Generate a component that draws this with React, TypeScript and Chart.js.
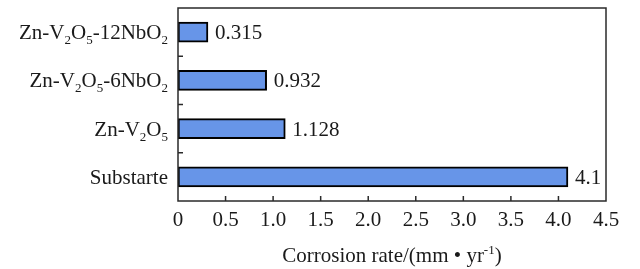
import React, { useEffect, useRef } from "react";
import { Chart, registerables } from "chart.js";

Chart.register(...registerables);

// "_x" marks a one-character subscript
const categories = ["Zn-V_2O_5-12NbO_2", "Zn-V_2O_5-6NbO_2", "Zn-V_2O_5", "Substarte"];
const corrosionRates = [0.315, 0.932, 1.128, 4.1];
const valueLabels = ["0.315", "0.932", "1.128", "4.1"];
const xTickValues = [0, 0.5, 1.0, 1.5, 2.0, 2.5, 3.0, 3.5, 4.0, 4.5];
const axisTitleMain = "Corrosion rate/(mm \u2022 yr";
const axisTitleSup = "-1";
const axisTitleEnd = ")";

const FONT = '"Liberation Serif", "Times New Roman", serif';
const SIZE = 21;
const SUB = 13;
const TEXT = "#1a1a1a";
const FRAME = "#2a2a2a";

function parseRich(t: string) {
  const segs: { s: string; sub: boolean }[] = [];
  let i = 0;
  let cur = "";
  while (i < t.length) {
    if (t[i] === "_" && i + 1 < t.length) {
      if (cur) segs.push({ s: cur, sub: false });
      cur = "";
      segs.push({ s: t[i + 1], sub: true });
      i += 2;
    } else {
      cur += t[i];
      i++;
    }
  }
  if (cur) segs.push({ s: cur, sub: false });
  return segs;
}

function drawRichRight(ctx: CanvasRenderingContext2D, t: string, xRight: number, baseline: number) {
  const segs = parseRich(t);
  let total = 0;
  for (const sg of segs) {
    ctx.font = `${sg.sub ? SUB : SIZE}px ${FONT}`;
    total += ctx.measureText(sg.s).width;
  }
  let x = xRight - total;
  ctx.textAlign = "left";
  ctx.textBaseline = "alphabetic";
  for (const sg of segs) {
    ctx.font = `${sg.sub ? SUB : SIZE}px ${FONT}`;
    ctx.fillText(sg.s, x, sg.sub ? baseline + 5 : baseline);
    x += ctx.measureText(sg.s).width;
  }
}

const decorPlugin = {
  id: "decor",
  afterDraw(chart: any) {
    const ctx: CanvasRenderingContext2D = chart.ctx;
    const { left, right, top, bottom } = chart.chartArea;
    const xs = chart.scales.x;
    const ys = chart.scales.y;
    ctx.save();
    // frame
    ctx.strokeStyle = FRAME;
    ctx.lineWidth = 1.5;
    ctx.strokeRect(left, top, right - left, bottom - top);
    // x ticks inward
    for (const v of xTickValues) {
      const px = xs.getPixelForValue(v);
      if (px <= left + 1 || px >= right - 1) continue;
      ctx.beginPath();
      ctx.moveTo(px, bottom);
      ctx.lineTo(px, bottom - 5);
      ctx.stroke();
    }
    // y ticks at category boundaries
    for (let i = 0; i < categories.length - 1; i++) {
      const py = (ys.getPixelForValue(i) + ys.getPixelForValue(i + 1)) / 2;
      ctx.beginPath();
      ctx.moveTo(left, py);
      ctx.lineTo(left + 5, py);
      ctx.stroke();
    }
    // category labels
    ctx.fillStyle = TEXT;
    categories.forEach((c, i) => {
      const py = ys.getPixelForValue(i);
      drawRichRight(ctx, c, left - 10, py + 7);
    });
    // value labels
    ctx.font = `${SIZE}px ${FONT}`;
    ctx.textAlign = "left";
    ctx.textBaseline = "alphabetic";
    corrosionRates.forEach((v, i) => {
      const px = xs.getPixelForValue(v);
      const py = ys.getPixelForValue(i);
      ctx.fillText(valueLabels[i], px + 7, py + 7);
    });
    // axis title
    ctx.font = `${SIZE}px ${FONT}`;
    const w1 = ctx.measureText(axisTitleMain).width;
    const w3 = ctx.measureText(axisTitleEnd).width;
    ctx.font = `${SUB}px ${FONT}`;
    const w2 = ctx.measureText(axisTitleSup).width;
    const total = w1 + w2 + w3;
    let x = (left + right) / 2 - total / 2;
    const base = 262;
    ctx.font = `${SIZE}px ${FONT}`;
    ctx.fillText(axisTitleMain, x, base);
    x += w1;
    ctx.font = `${SUB}px ${FONT}`;
    ctx.fillText(axisTitleSup, x, base - 8);
    x += w2;
    ctx.font = `${SIZE}px ${FONT}`;
    ctx.fillText(axisTitleEnd, x, base);
    ctx.restore();
  },
};

export default function App() {
  const ref = useRef<HTMLCanvasElement | null>(null);
  useEffect(() => {
    if (!ref.current) return;
    const chart = new Chart(ref.current, {
      type: "bar",
      data: {
        labels: categories,
        datasets: [
          {
            data: corrosionRates,
            backgroundColor: "#6795e8",
            borderColor: "#000000",
            borderWidth: 2,
            borderSkipped: false,
            barThickness: 20,
          },
        ],
      },
      options: {
        indexAxis: "y",
        animation: false,
        responsive: true,
        maintainAspectRatio: false,
        layout: { padding: { left: 0, right: 34, top: 8, bottom: 0 } },
        plugins: { legend: { display: false }, tooltip: { enabled: false } },
        scales: {
          x: {
            type: "linear",
            min: 0,
            max: 4.5,
            grid: { display: false, drawTicks: false },
            border: { display: false },
            afterBuildTicks: (scale: any) => {
              scale.ticks = xTickValues.map((v) => ({ value: v }));
            },
            afterFit: (scale: any) => {
              scale.height = 68;
            },
            ticks: {
              padding: 7,
              color: TEXT,
              font: { family: FONT, size: SIZE },
              callback: (v: any) => (Number(v) === 0 ? "0" : Number(v).toFixed(1)),
            },
          },
          y: {
            type: "category",
            grid: { display: false, drawTicks: false },
            border: { display: false },
            ticks: { display: false },
            afterFit: (scale: any) => {
              scale.width = 178;
            },
          },
        },
      },
      plugins: [decorPlugin],
    } as any);
    return () => chart.destroy();
  }, []);
  return (
    <div style={{ position: "fixed", left: 0, top: 0, width: 640, height: 269, background: "#fff" }}>
      <canvas ref={ref} />
    </div>
  );
}
